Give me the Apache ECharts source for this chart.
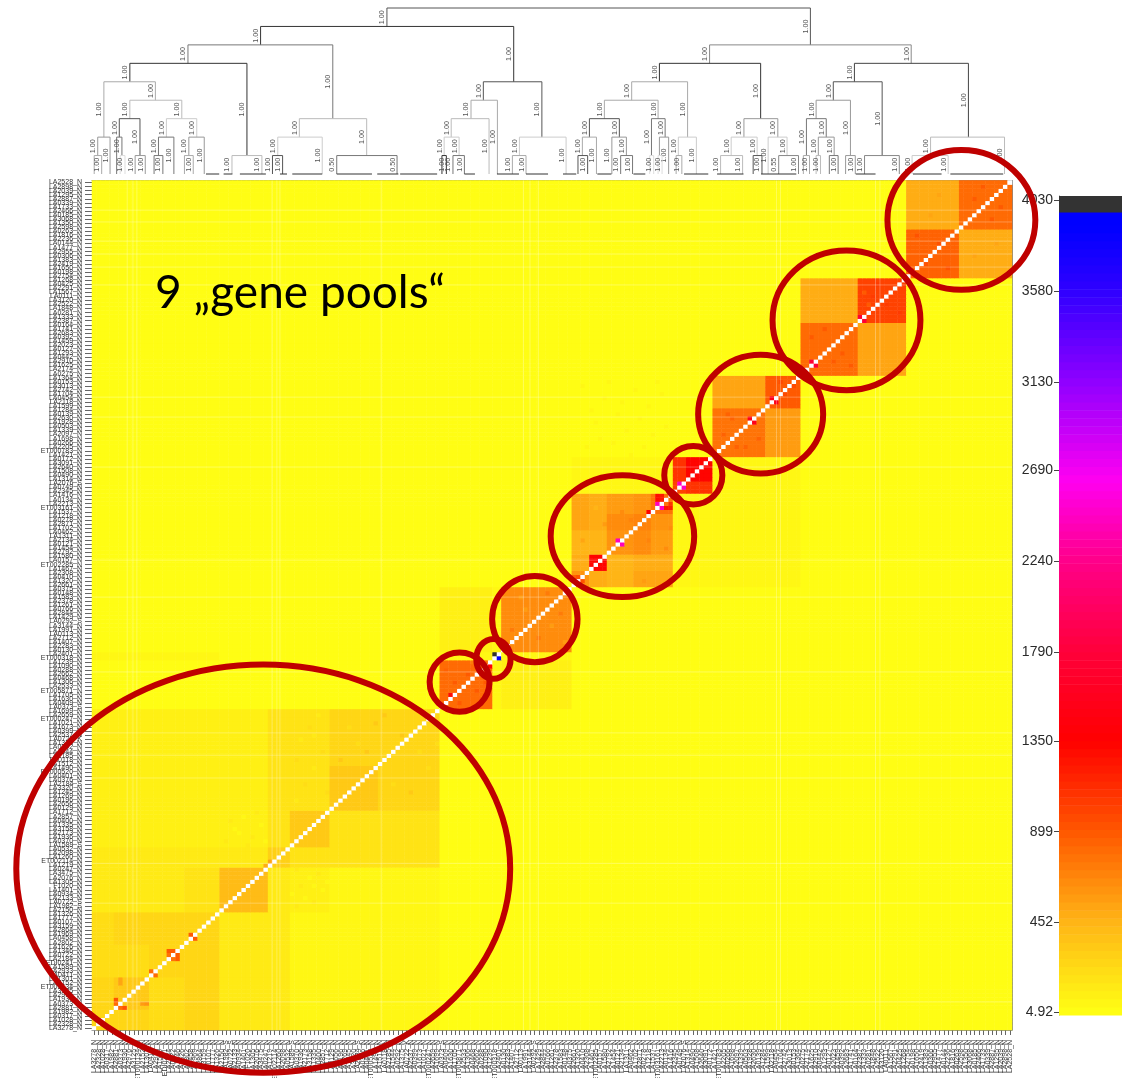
<!DOCTYPE html>
<html><head><meta charset="utf-8">
<style>html,body{margin:0;padding:0;background:#fff}#c{width:1122px;height:1078px}</style>
<script src="https://cdn.jsdelivr.net/npm/echarts@6/dist/echarts.min.js"></script>
</head><body><div id="c"></div>
<script>
const accessions = ("LA3278_N LA2328_N LA1028_N LA0317_N LA1982_N LA2881_N LA0373_N LA1930_N LA2976_N LA3125_N "+
"ET000134_N LA2152_N LA1301_N LA0411_N LA2933_N LA1589_N EDI0241_N LA2184_N LA0722_N LA1346_N "+
"LA1626_N LA2802_N LA0458_N LA1969_N LA2864_N LA3159_N LA0107_N LA1777_N LA1326_N LA2150_N "+
"LA1982_S LA0722_S LA2133_N LA0934_N LA1401_N F1020_N LA1305_N LA2076_N LA3475_N LA0247_N "+
"LA1219_N ET002114_N LA1260_N LA2098_N LA0532_N LA1589_S LA0370_N LA1936_N LA2173_N LA3158_N "+
"LA1335_N LA0400_N LA2857_N LA1712_N LA0129_N LA2656_N LA0196_N LA1269_N LA1245_N LA3320_N "+
"LA2184_S LA0376_N LA0401_N ET000520_N LA1490_N LA1512_N LA0118_N LA2185_N LA1544_N LA0292_N "+
"LA1375_N LA0722_K LA2537_N LA0399_N LA1673_N LA1021_N ET000247_N LA2659_N LA1699_N LA0373_S "+
"LA0409_N LA1630_N LA1705_N ET005871_N LA2533_N LA1306_N LA0468_N LA2662_N LA0288_N LA1090_N "+
"LA1239_N ET000318_N LA2401_N LA0130_N LA2283_N LA1407_N LA2712_N LA0113_N LA1991_N LA3144_N "+
"LA0292_S LA1429_N LA2844_N LA0766_N LA1261_N LA2378_N LA1583_N LA0148_N LA0375_N LA2661_N "+
"LA1320_N LA0410_N LA2308_N LA1467_N ET002285_N LA0157_N LA1580_N LA2792_N LA1454_N LA0121_N "+
"LA2134_N LA1311_N LA0462_N LA1702_N LA2871_N LA0278_N LA1218_N LA1537_N ET003161_N LA2213_N "+
"LA0134_N LA1416_N LA2345_N LA0749_N LA2076_S LA1314_N LA0490_N LA1508_N LA2640_N LA3091_N "+
"LA0172_N LA1421_N ET000783_N LA2205_N LA0266_N LA1698_N LA2097_N LA1339_N LA0503_N LA1928_N "+
"LA2630_N LA0139_N LA1284_N LA1599_N LA2118_N LA0454_N LA1704_N LA2742_N LA3013_N LA0153_N "+
"LA1364_N LA0275_N LA2174_N LA1625_N LA2910_N LA0442_N LA1293_N LA0127_N LA2023_N LA1459_N "+
"LA0392_N LA2683_N LA1741_N LA0164_N LA2387_N LA1333_N LA0281_N LA1848_N LA2522_N LA3120_N "+
"LA0111_N LA1567_N LA2291_N LA0425_N LA1268_N LA2754_N LA0198_N LA1650_N LA2419_N LA1383_N "+
"LA0306_N LA2955_N LA1477_N LA0144_N LA2236_N LA1816_N LA0263_N LA2598_N LA1350_N LA3068_N "+
"LA0185_N LA2466_N LA1733_N LA0339_N LA2887_N LA1295_N LA2039_N LA2898_N LA2528_N").split(" ");

// Cluster edges along the leaf order, and mean value per cluster pair [row][col].
const clusterEdges = [0,5,13,21,29,40,45,54,65,79,91,93,109,113,117,123,127,132,135,141,153,161,174,185,197,209];
const clusterMeans = [
[250,240,210,240,140,140,55,40,40,20,20,20,20,20,20,20,20,20,20,20,20,20,20,20,20],
[240,330,230,240,140,140,55,40,40,20,20,20,20,20,20,20,20,20,20,20,20,20,20,20,20],
[210,230,240,250,130,140,50,40,40,20,20,20,20,20,20,20,20,20,20,20,20,20,20,20,20],
[230,240,250,270,140,140,55,40,40,20,20,20,20,20,20,20,20,20,20,20,20,20,20,20,20],
[150,140,150,160,430,130,85,50,50,20,20,20,20,20,20,20,20,20,20,20,20,20,20,20,20],
[150,150,150,150,150,280,170,170,170,20,20,20,20,20,20,20,20,20,20,20,20,20,20,20,20],
[80,80,80,80,90,170,330,190,190,20,20,20,20,20,20,20,20,20,20,20,20,20,20,20,20],
[80,80,80,80,80,165,170,350,270,20,20,20,20,20,20,20,20,20,20,20,20,20,20,20,20],
[80,80,80,80,80,165,170,270,270,20,20,20,20,20,20,20,20,20,20,20,20,20,20,20,20],
[20,20,20,20,20,20,20,20,20,800,60,95,20,20,20,20,20,20,20,20,20,20,20,20,20],
[45,45,45,45,30,25,25,25,25,50,100,50,20,20,20,20,20,20,20,20,20,20,20,20,20],
[20,20,20,20,20,20,20,20,20,100,40,650,20,20,20,20,20,20,20,20,20,20,20,20,20],
[20,20,20,20,20,20,20,20,20,20,20,20,600,490,470,520,520,60,60,60,60,20,20,20,20],
[20,20,20,20,20,20,20,20,20,20,20,20,490,1350,470,510,510,60,60,60,60,20,20,20,20],
[20,20,20,20,20,20,20,20,20,20,20,20,470,470,600,640,580,55,55,60,60,20,20,20,20],
[20,20,20,20,20,20,20,20,20,20,20,20,520,510,640,680,600,55,55,60,60,20,20,20,20],
[20,20,20,20,20,20,20,20,20,20,20,20,520,510,580,600,780,70,70,60,60,20,20,20,20],
[20,20,20,20,20,20,20,20,20,20,20,20,45,45,45,45,45,1000,1100,35,35,20,20,20,20],
[20,20,20,20,20,20,20,20,20,20,20,20,45,45,45,45,45,1100,1350,35,35,20,20,20,20],
[20,20,20,20,20,20,20,20,20,20,20,20,25,25,25,25,25,25,25,780,560,20,20,20,20],
[20,20,20,20,20,20,20,20,20,20,20,20,25,25,25,25,25,25,25,520,900,20,20,20,20],
[20,20,20,20,20,20,20,20,20,20,20,20,20,20,20,20,20,20,20,20,20,820,520,20,20],
[20,20,20,20,20,20,20,20,20,20,20,20,20,20,20,20,20,20,20,20,20,500,1000,20,20],
[20,20,20,20,20,20,20,20,20,20,20,20,20,20,20,20,20,20,20,20,20,20,20,860,510],
[20,20,20,20,20,20,20,20,20,20,20,20,20,20,20,20,20,20,20,20,20,20,20,490,820]];

// Individual cells that stand out from their cluster: [col,row,value]
const hotCells = [[1,2,800],[2,1,800],[5,6,800],[5,7,950],[6,5,800],[7,5,950],[11,6,560],[12,6,600],[6,11,520],[6,12,520],
[13,14,820],[14,13,820],[17,18,780],[17,19,880],[18,19,880],[19,17,880],[19,18,880],[18,17,780],[22,23,900],[23,22,900],[39,40,500],[40,41,520],
[81,82,1300],[90,89,1350],[91,92,4010],[92,91,3900],[109,111,850],[110,111,950],[111,110,950],
[119,120,2450],[120,119,2450],[126,127,1350],[128,129,2450],[129,128,2450],[128,130,1300],[128,131,1300],[129,130,1200],[129,131,1200],[130,128,1250],[131,128,1200],[131,129,1100],
[133,134,2450],[134,133,2450],[149,150,1550],[150,149,1550],[154,155,1550],[155,154,1550],[163,164,1750],[164,163,1750],[174,175,1750],[175,174,1750]];
const speckCells = [[112,143,60],[115,145,70],[118,144,55],[121,147,65],[124,150,60],[127,146,55],[113,152,65],[116,155,60],[120,154,70],[123,157,55],[126,153,60],[129,156,65],[111,158,55],[117,159,60],[122,141,60],[125,143,70],[130,148,60],[114,149,55],[119,151,65],[128,159,55],
[46,30,120],[48,32,40],[50,31,120],[52,34,40],[47,35,120],[49,37,40],[51,38,120],[53,36,40],[45,33,40],[46,39,120],[50,35,40],
[30,46,140],[33,48,50],[36,47,140],[38,50,50],[31,51,140],[34,52,50],[37,53,140],[39,46,50],[32,49,50],[35,45,140],
[46,56,130],[48,60,220],[50,64,130],[52,68,220],[47,71,130],[49,74,220],[51,77,130],[53,58,220],[46,66,220],[50,72,130],
[56,66,320],[60,70,230],[64,75,320],[68,60,230],[72,58,320],[76,64,230],[58,74,230],[70,72,320],[74,68,230],[66,77,320],[78,70,230],[62,68,320],
[82,85,880],[85,87,880],[87,83,880],[83,80,880],[88,81,860],[80,88,860],[86,90,740],[89,85,880],[95,98,720],[98,103,590],[101,96,720],[104,99,590],[106,102,720],[97,106,590],[103,107,720],[107,95,590],
[111,120,530],[114,128,470],[118,115,450],[125,110,560],[130,118,640],[122,125,700],[116,124,570],[120,127,660],[126,120,700],[131,123,650],
[143,146,860],[146,143,860],[145,150,870],[151,145,860],[148,143,840],[144,151,860],[157,156,970],[159,158,970],[156,159,970],[163,170,890],[170,166,890],[166,172,900],[172,163,890],[168,164,890],[177,180,1070],[180,178,1070],[183,176,1070],[178,183,1070],[176,178,880],[175,181,880],
[189,188,920],[192,193,920],[194,187,920],[187,195,920],[200,204,880],[204,199,880],[206,202,880],[202,207,880],[190,200,540],[192,205,540],[200,190,540],[205,193,540]];

// Colour legend
const legendTicks = [4.92,452,899,1350,1790,2240,2690,3130,3580,4030];
const legendEdges = [-10,30,70,110,150,190,230,270,310,350,390,430,470,510,550,590,630,670,710,750,790,830,870,910,950,990,1030,1070,1110,1150,1190,1230,1270,1310,1350,1390,1430,1470,1510,1550,1590,1630,1670,1710,1750,1790,1830,1870,1910,1950,1990,2030,2070,2110,2150,2190,2230,2270,2310,2350,2390,2430,2470,2510,2550,2590,2630,2670,2710,2750,2790,2830,2870,2910,2950,2990,3030,3070,3110,3150,3190,3230,3270,3310,3350,3390,3430,3470,3510,3550,3590,3630,3670,3710,3750,3790,3830,3870,3910,3973,4052];
const rampValues = [0,452,899,1350,1790,2240,2640,3130,3580,3900];
const rampColors = ["#ffff14","#ffb516","#ff5800","#ff0000","#ff003a","#ff0088","#ff00f0","#9000ff","#3000ff","#0000ff"];
const overflowColor = "#333333";
const selfColor = "#ffffff";

// Dendrogram merges: [left leg, right leg, level, level under left leg, level under right leg, grey]
const merges = [
[67.0,163.2,9,8,7,"#555"],[38.3,95.8,8,7,5,"#333"],[21.8,54.7,7,6,3,"#777"],[8.6,35.2,6,5,1,"#333"],
[2.7,14.4,5,2,4,"#aaa"],[47.1,62.4,3,2,1,"#bbb"],[31.8,38.6,1,0,0,"#bbb"],[1.3,4.1,2,1,0,"#999"],
[8.6,20.4,4,3,3,"#bbb"],[0.5,2.2,1,0,0,"#aaa"],[6.2,10.9,3,2,1,"#555"],[16.9,23.8,3,2,2,"#ccc"],
[5.6,6.8,2,0,1,"#777"],[6.4,7.5,1,0,0,"#ddd"],[9.8,12.1,1,0,0,"#999"],[15.1,18.6,2,1,0,"#777"],
[22.0,25.5,2,1,0,"#999"],[14.1,16.1,1,0,0,"#777"],[21.0,23.0,1,0,0,"#aaa"],[42.2,52.3,2,1,0,"#ccc"],
[55.6,69.3,1,0,0,"#777"],[41.0,43.3,1,0,0,"#555"],[88.9,102.2,5,4,2,"#555"],[86.1,92.1,4,3,0,"#aaa"],
[97.1,107.7,2,1,0,"#ccc"],[81.6,90.2,3,2,0,"#bbb"],[80.0,83.4,2,1,1,"#ccc"],[79.5,80.5,1,0,0,"#333"],
[82.0,84.6,1,0,0,"#777"],[95.5,98.6,1,0,0,"#aaa"],[140.3,186.1,7,6,6,"#888"],[128.9,151.9,6,5,3,"#333"],
[173.2,199.1,6,5,2,"#444"],[122.6,135.3,5,4,2,"#aaa"],[148.1,155.8,3,2,2,"#999"],[116.4,128.6,4,3,3,"#aaa"],
[133.2,137.3,2,1,0,"#ccc"],[113.0,119.8,3,2,2,"#555"],[127.1,130.2,3,1,2,"#777"],[111.4,114.6,2,1,0,"#aaa"],
[118.1,121.4,2,0,1,"#999"],[110.4,112.6,1,0,0,"#555"],[120.1,122.8,1,0,0,"#777"],[126.7,127.6,1,0,0,"#ddd"],
[128.9,131.0,2,1,0,"#999"],[128.6,129.5,1,0,0,"#ddd"],[132.7,134.0,1,0,0,"#aaa"],[145.2,151.1,2,1,1,"#ccc"],
[153.6,157.9,2,0,1,"#ccc"],[142.8,147.8,1,0,0,"#bbb"],[150.2,152.2,1,0,0,"#555"],[156.0,160.5,1,0,0,"#888"],
[168.4,179.5,5,4,1,"#555"],[164.5,172.3,4,3,1,"#999"],[162.3,166.8,3,1,2,"#777"],[161.6,163.0,1,0,0,"#aaa"],
[165.0,168.6,2,1,1,"#999"],[164.5,165.5,1,0,0,"#bbb"],[167.5,169.5,1,0,0,"#777"],[171.2,173.4,1,0,0,"#999"],
[175.5,183.4,1,0,0,"#888"],[190.5,207.3,2,1,0,"#bbb"],[186.3,194.5,1,0,0,"#ccc"]];
const leafRuns = [[25.9,28.9],[29.9,31.9],[33.6,39.5],[42.7,44.3],[45.5,52.3],[55.6,63.6],[64.8,69.6],[70.0,78.4],[84.6,87.0],[92.0,97.0],[98.6,103.6],[107.0,110.0],[114.8,118.0],[123.0,125.7],[134.5,140.0],[142.0,148.0],[152.0,160.0],[173.5,178.0],[186.5,193.0],[195.0,207.0]];
const legValues = {"55.6":"0.50","69.3":"0.50","156":"0.55"};
const nodeValue = "1.00";

// Hand-drawn ovals: [centre col, centre row, radius in cols, radius in rows]
const genePools = [[38.9,39.7,56.1,50.2],[83.5,85.6,6.8,7.3],[91.2,91.3,3.9,4.9],[100.6,101.1,9.7,10.6],[120.5,121.5,16.3,15.0],[136.6,136.5,6.6,7.2],[151.9,151.5,14.2,14.6],[171.4,174.6,16.8,17.2],[197.5,199.3,16.8,17.2]];
const caption = "9 „gene pools“";
const captionAt = [14.3,181.3];
const faintCols = [8.0,9.3,10.2,40.9,42,42.7,65.7,98,99.5,101.4,155.5,156.4,178,179];
const faintRows = [201.7,198.8,194.1,190.9,187.7,183.3,155.7,150.8,138.5,115.6,106.5,88.1,73.1,67.6,62,41,31.2,6.9];

const N = accessions.length;
function clusterOf(i){ for(let k=0;k<clusterEdges.length-1;k++){ if(i<clusterEdges[k+1]) return k; } return clusterEdges.length-2; }
const cellMap = new Map();
[...speckCells,...hotCells].forEach(c=>cellMap.set(c[0]+"_"+c[1],c[2]));
const cells = [];
for(let r=0;r<N;r++){ for(let c=0;c<N;c++){
  let v = (r===c) ? -1 : (cellMap.has(c+"_"+r) ? cellMap.get(c+"_"+r) : clusterMeans[clusterOf(r)][clusterOf(c)]);
  cells.push([c,r,v]);
}}
function ramp(v){
  if(v<=rampValues[0]) return rampColors[0];
  for(let i=1;i<rampValues.length;i++){ if(v<=rampValues[i]){
    return echarts.color.lerp((v-rampValues[i-1])/(rampValues[i]-rampValues[i-1]),[rampColors[i-1],rampColors[i]]);
  }}
  return rampColors[rampColors.length-1];
}
const bands = [];
for(let i=0;i<legendEdges.length-1;i++){
  const lo=legendEdges[i],hi=legendEdges[i+1];
  bands.push([lo,hi, i===legendEdges.length-2 ? overflowColor : ramp((lo+hi)/2)]);
}
const pieces = [{min:-2,max:-0.5,color:selfColor}].concat(bands.map((b,i)=>({min:b[0]<0?0:b[0],max:b[1],color:b[2]})));

const FONT="'Liberation Sans',Arial,sans-serif";
const G={left:92,width:920,top:180.5,height:849.5};

const option={
  animation:false,backgroundColor:"#fff",
  grid:[
    {left:G.left,width:G.width,top:G.top,height:G.height,outerBoundsMode:"none"},
    {left:G.left,width:G.width,top:G.top,height:G.height,outerBoundsMode:"none"},
    {left:G.left,width:G.width,top:8,height:166,outerBoundsMode:"none"},
    {left:1059,width:80,top:196,height:819,outerBoundsMode:"none"}
  ],
  xAxis:[
    {gridIndex:0,type:"category",data:accessions,axisLine:{show:true,onZero:false,lineStyle:{color:"#888",width:1}},
     axisTick:{show:true,alignWithLabel:true,interval:0,length:5,lineStyle:{color:"#666",width:1}},
     axisLabel:{interval:0,rotate:90,fontSize:7,color:"#333",margin:10,fontFamily:FONT},splitLine:{show:false}},
    {gridIndex:1,type:"value",min:0,max:209,position:"top",axisLine:{show:true,onZero:false,lineStyle:{color:"#888",width:1}},axisTick:{show:false},axisLabel:{show:false},splitLine:{show:false}},
    {gridIndex:2,type:"value",min:0,max:209,show:false},
    {gridIndex:3,type:"value",min:0,max:1,show:false}
  ],
  yAxis:[
    {gridIndex:0,type:"category",data:accessions,axisLine:{show:true,onZero:false,lineStyle:{color:"#888",width:1}},
     axisTick:{show:true,alignWithLabel:true,interval:0,length:7,lineStyle:{color:"#666",width:1}},
     axisLabel:{interval:0,fontSize:7,color:"#333",margin:10,fontFamily:FONT},splitLine:{show:false}},
    {gridIndex:1,type:"value",min:0,max:209,position:"right",axisLine:{show:true,onZero:false,lineStyle:{color:"#888",width:1}},axisTick:{show:false},axisLabel:{show:false},splitLine:{show:false}},
    {gridIndex:2,type:"value",min:0,max:9,show:false},
    {gridIndex:3,type:"value",min:-10,max:4052,position:"left",
     axisLine:{show:true,onZero:false,lineStyle:{color:"#777",width:1}},
     axisTick:{show:true,length:5,customValues:legendTicks,lineStyle:{color:"#444"}},
     axisLabel:{show:true,customValues:legendTicks,formatter:v=>String(v),fontSize:14,color:"#2a2a2a",margin:6,fontFamily:FONT},
     splitLine:{show:false}}
  ],
  visualMap:[{type:"piecewise",show:false,seriesIndex:0,dimension:2,pieces:pieces}],
  series:[
    {type:"heatmap",xAxisIndex:0,yAxisIndex:0,data:cells,progressive:0,silent:true,emphasis:{disabled:true},itemStyle:{borderWidth:0},z:1},
    {type:"custom",xAxisIndex:1,yAxisIndex:1,silent:true,z:2,
     data:[...faintCols.map(c=>[c,-1]),...faintRows.map(r=>[-1,r])],
     encode:{x:0,y:1},
     renderItem(p,api){
       const a=api.value(0),b=api.value(1);
       const s=a>=0?api.coord([a,0]):api.coord([0,b]);
       const e=a>=0?api.coord([a,209]):api.coord([209,b]);
       return {type:"line",shape:{x1:s[0],y1:s[1],x2:e[0],y2:e[1]},style:{stroke:"rgba(255,255,255,0.28)",lineWidth:1}};
     }},
    {type:"custom",xAxisIndex:2,yAxisIndex:2,silent:true,z:3,clip:false,
     data:merges.map((m,i)=>[m[0],m[1],m[2],m[3],m[4],i]),
     encode:{x:[0,1],y:2},
     renderItem(p,api){
       const m=merges[api.value(5)];
       const tl=api.coord([m[0],m[2]]),tr=api.coord([m[1],m[2]]);
       const bl=api.coord([m[0],m[3]]),br=api.coord([m[1],m[4]]);
       const kids=[{type:"polyline",shape:{points:[bl,tl,tr,br]},style:{stroke:m[5],lineWidth:1,fill:null}}];
       const tag=(x,yTop,yBot)=>{
         kids.push({type:"text",x:x-4.5,y:(yTop+yBot)/2,rotation:Math.PI/2,
           style:{text:legValues[String(x===tl[0]?m[0]:m[1])]||nodeValue,fontSize:7.2,fill:"#555",align:"center",verticalAlign:"middle",fontFamily:FONT}});
       };
       if(tr[0]-tl[0]>=10) tag(tl[0],tl[1],bl[1]);
       tag(tr[0],tr[1],br[1]);
       return {type:"group",children:kids};
     }},
    {type:"custom",xAxisIndex:2,yAxisIndex:2,silent:true,z:3,clip:false,
     data:leafRuns,encode:{x:[0,1]},
     renderItem(p,api){
       const s=api.coord([api.value(0),0]),e=api.coord([api.value(1),0]);
       return {type:"line",shape:{x1:s[0],y1:s[1],x2:e[0],y2:e[1]},style:{stroke:"#333",lineWidth:1}};
     }},
    {type:"custom",xAxisIndex:3,yAxisIndex:3,silent:true,z:2,
     data:bands.map(b=>[0,b[0],1,b[1],b[2]]),encode:{x:[0,2],y:[1,3]},
     renderItem(p,api){
       const a=api.coord([0,api.value(3)]),b=api.coord([1,api.value(1)]);
       return {type:"rect",shape:{x:a[0],y:a[1],width:b[0]-a[0],height:b[1]-a[1]+0.5},style:{fill:bands[p.dataIndex][2]}};
     }},
    {type:"custom",xAxisIndex:1,yAxisIndex:1,silent:true,z:10,clip:false,
     data:genePools,encode:{x:0,y:1},
     renderItem(p,api){
       const c=api.coord([api.value(0),api.value(1)]);
       const e=api.coord([api.value(0)+api.value(2),api.value(1)+api.value(3)]);
       return {type:"ellipse",shape:{cx:c[0],cy:c[1],rx:Math.abs(e[0]-c[0]),ry:Math.abs(e[1]-c[1])},style:{stroke:"#bf0000",lineWidth:6,fill:null}};
     }},
    {type:"custom",xAxisIndex:1,yAxisIndex:1,silent:true,z:11,clip:false,
     data:[captionAt],encode:{x:0,y:1},
     renderItem(p,api){
       const c=api.coord([api.value(0),api.value(1)]);
       return {type:"text",x:c[0],y:c[1],style:{text:caption,fontSize:46,fill:"#000",align:"left",verticalAlign:"middle",fontFamily:"Lato,'Open Sans',sans-serif"}};
     }}
  ]
};
const chart=echarts.init(document.getElementById("c"),null,{renderer:"canvas",width:1122,height:1078});
chart.setOption(option);
</script></body></html>
